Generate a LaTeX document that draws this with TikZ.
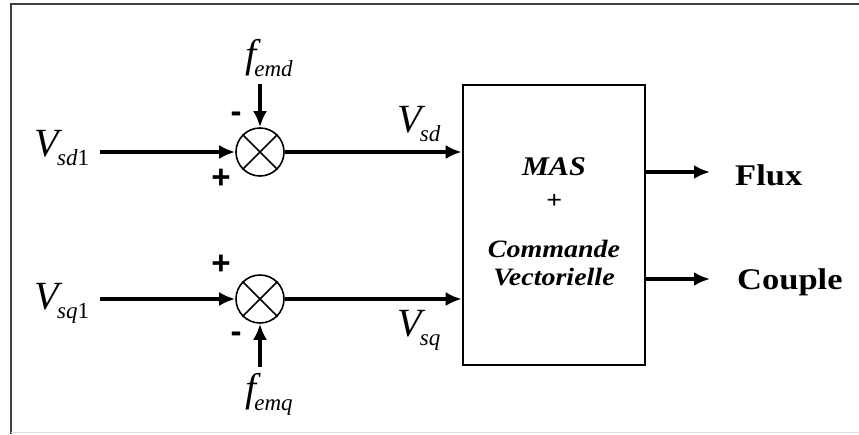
\documentclass[tikz,border=0pt]{standalone}
\usepackage{fontspec}
\setmainfont{Liberation Serif}
\newfontfamily\signfont{Liberation Sans}
\usetikzlibrary{arrows.meta}
\newcommand\sublab[3]{{\fontsize{40}{40}\selectfont\itshape #1}\kern-2pt\raisebox{-9pt}{\fontsize{23}{23}\selectfont\itshape #2\upshape #3}}
\tikzset{
  sig/.style={line width=3.2pt,-{Latex[length=16pt,width=14pt]}},
  sumnode/.style={circle,draw,line width=1.6pt,minimum size=48pt,inner sep=0pt},
  lab/.style={inner sep=0pt,anchor=center},
  sgn/.style={inner sep=0pt,font=\signfont\bfseries\fontsize{33}{33}\selectfont},
  outlab/.style={inner sep=0pt,anchor=west,font=\bfseries\fontsize{30}{30}\selectfont},
  boxlab/.style={inner sep=0pt,font=\bfseries\itshape\fontsize{25}{25}\selectfont}
}
\begin{document}
\begin{tikzpicture}[x=1pt,y=-1pt]
\useasboundingbox (0,0) rectangle (859,434);
% frame
\draw[line width=2.8pt,black!75] (11,434) -- (11,4) -- (859,4);
\draw[line width=1pt,black!15] (11,432) -- (859,432);
% summing junctions
\node[sumnode] (s1) at (260,152) {};
\node[sumnode] (s2) at (260,299) {};
\draw[line width=1.6pt] (s1.north west) -- (s1.south east) (s1.north east) -- (s1.south west);
\draw[line width=1.6pt] (s2.north west) -- (s2.south east) (s2.north east) -- (s2.south west);
% block
\node[draw,line width=2.6pt,minimum width=182pt,minimum height=280pt,inner sep=0pt] (blk) at (554,225) {};
% inputs
\coordinate (in1) at (100,152);
\coordinate (in2) at (100,299);
\coordinate (fd) at (260,84);
\coordinate (fq) at (260,367);
\node[lab] (vsd1) at (62,148) {\sublab{V}{sd}{1}};
\node[lab] (vsq1) at (62,303) {\sublab{V}{sq}{1}};
\node[lab] (femd) at (269,58) {\sublab{f}{emd}{}};
\node[lab] (femq) at (269,394) {\sublab{f}{emq}{}};
\draw[sig] (in1) -- (s1.west);
\draw[sig] (in2) -- (s2.west);
\draw[sig] (fd) -- (s1.north);
\draw[sig] (fq) -- (s2.south);
% signs
\node[sgn] (m1) at (236,117) {-};
\node[sgn] (p1) at (221,179) {+};
\node[sgn] (p2) at (221,265) {+};
\node[sgn] (m2) at (236,337) {-};
% outputs to block
\coordinate (b1) at (blk.west |- s1.east);
\coordinate (b2) at (blk.west |- s2.east);
\draw[sig] (s1.east) -- (b1);
\draw[sig] (s2.east) -- (b2);
\node[lab] (vsd) at (419,124) {\sublab{V}{sd}{}};
\node[lab] (vsq) at (419,330) {\sublab{V}{sq}{}};
% block texts
\node[boxlab,font=\bfseries\itshape\fontsize{27}{27}\selectfont] (mas) at (554,167) {\scalebox{1.12}[1]{MAS}};
\node[boxlab] (plus) at (554,201) {\scalebox{1.12}[1]{+}};
\node[boxlab] (cmd) at (554,249) {\scalebox{1.12}[1]{Commande}};
\node[boxlab] (vec) at (554,277) {\scalebox{1.12}[1]{Vectorielle}};
% outputs
\coordinate (o1) at (blk.east |- 0,172);
\coordinate (o2) at (blk.east |- 0,279);
\coordinate (e1) at (710,172);
\coordinate (e2) at (710,279);
\draw[sig] (o1) -- (e1);
\draw[sig] (o2) -- (e2);
\node[outlab] (flux) at (735,175) {\scalebox{1.15}[1]{Flux}};
\node[outlab] (couple) at (737,282) {\scalebox{1.15}[1]{Couple}};
\end{tikzpicture}
\end{document}
